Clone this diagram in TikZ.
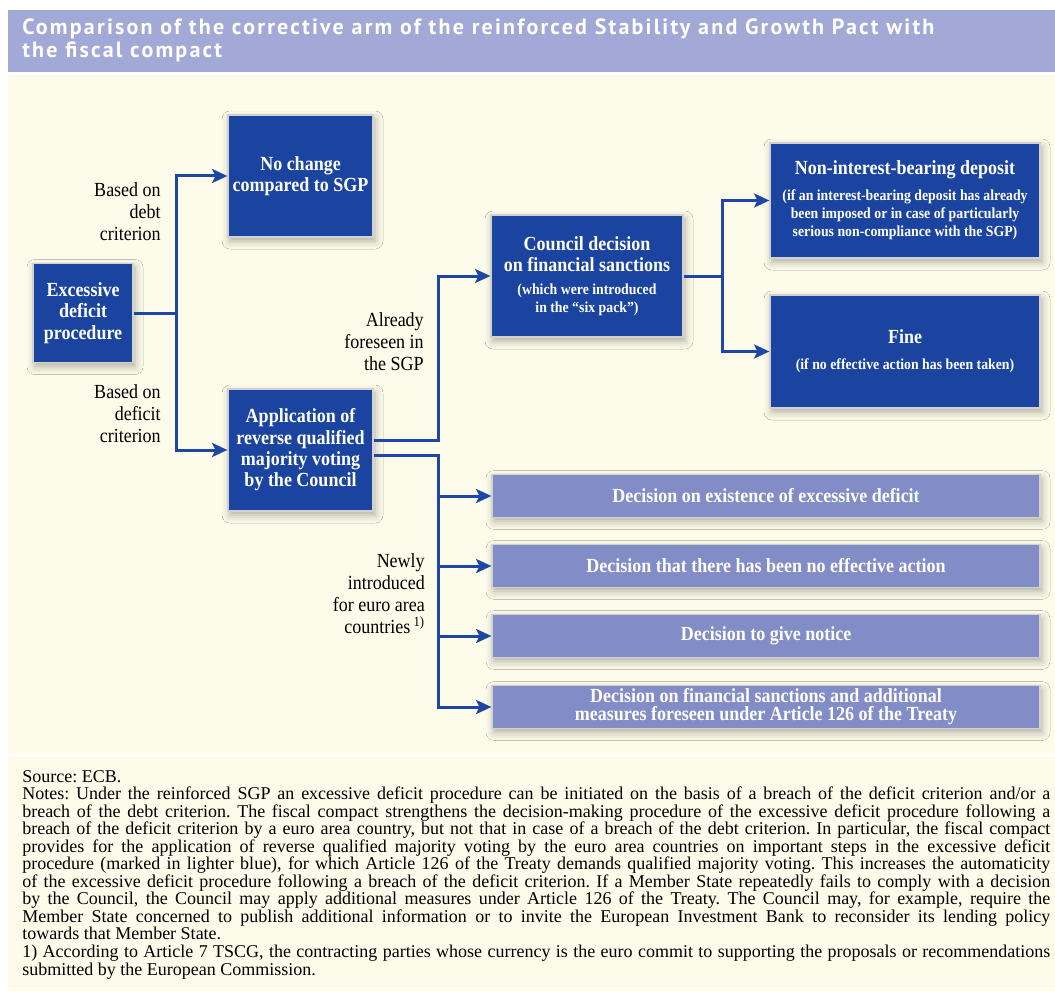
\documentclass[tikz,border=0pt]{standalone}
\usepackage{fontspec}
\setmainfont{Liberation Serif}
\newfontfamily\dfont[FakeStretch=0.9]{Liberation Serif}
\newfontfamily\tfont[LetterSpace=10]{PT Sans}
\usetikzlibrary{arrows.meta,shadows.blur}
\definecolor{titlebg}{RGB}{163,169,214}
\definecolor{cream}{RGB}{253,251,233}
\definecolor{dblue}{RGB}{27,68,160}
\definecolor{lblue}{RGB}{130,141,200}
\definecolor{lineblue}{RGB}{30,70,165}
\newcommand{\bsize}{\fontsize{15pt}{16pt}\selectfont}
\newcommand{\ssize}{\fontsize{11.5pt}{13.5pt}\selectfont}
\newcommand{\jline}[1]{\hbox to\linewidth{#1}}
\newcommand{\rline}[1]{\hbox{#1}}
\begin{document}
\begin{tikzpicture}[x=0.75pt,y=-0.75pt,
  box/.style={rectangle, draw=white!82!black, line width=0.9pt, text=white, align=center,
    inner sep=0pt, font=\dfont\bfseries\bsize,
    blur shadow={shadow xshift=1.5pt, shadow yshift=-3pt, shadow blur radius=6pt, shadow opacity=32}},
  dbox/.style={box, fill=dblue},
  lbox/.style={box, fill=lblue, minimum width=411pt, minimum height=32pt},
  lab/.style={align=right, anchor=east, inner sep=0pt, text=black,
    font=\dfont\fontsize{15pt}{16.5pt}\selectfont},
  ttl/.style={anchor=base west, inner sep=0pt, text=white,
    font=\tfont\bfseries\fontsize{16.5pt}{18pt}\selectfont},
  conn/.style={draw=lineblue, line width=2.25pt,
    -{Stealth[length=11.5pt,width=10.5pt,inset=2.5pt]}}
]
\useasboundingbox (0,0) rectangle (1055,991);
\fill[white] (0,0) rectangle (1055,991);
\fill[titlebg] (8,10) rectangle (1055,72);
\fill[cream] (8,75) rectangle (1055,754);
\fill[cream] (8,757) rectangle (1055,991);

% title
\node[ttl] (t1) at (22,35) {Comparison of the corrective arm of the reinforced Stability and Growth Pact with};
\node[ttl] (t2) at (22,58) {the fiscal compact};

% dark boxes
\node[dbox, minimum width=75pt, minimum height=74.25pt] (edp) at (83,313)
  {Excessive\\deficit\\procedure};
\node[dbox, minimum width=108.75pt, minimum height=91.5pt] (nochange) at (300.5,176)
  {No change\\compared to SGP};
\node[dbox, minimum width=108.75pt, minimum height=91.5pt] (app) at (300.5,450)
  {Application of\\reverse qualified\\majority voting\\by the Council};
\node[dbox, minimum width=144pt, minimum height=91.5pt] (council) at (587,276)
  {Council decision\\on financial sanctions\\[1.25pt]{\ssize (which were introduced}\\[-2.5pt]{\ssize in the “six pack”)}};
\node[dbox, minimum width=202.5pt, minimum height=86.25pt] (nonint) at (905,200.5)
  {Non-interest-bearing deposit\\[3.5pt]{\ssize (if an interest-bearing deposit has already}\\[-2.5pt]{\ssize been imposed or in case of particularly}\\[-2.5pt]{\ssize serious non-compliance with the SGP)}};
\node[dbox, minimum width=202.5pt, minimum height=84.75pt] (fine) at (905,351.5)
  {Fine\\[3.5pt]{\ssize (if no effective action has been taken)}};

% light boxes
\node[lbox] (d1) at (766,496) {Decision on existence of excessive deficit};
\node[lbox] (d2) at (766,566) {Decision that there has been no effective action};
\node[lbox] (d3) at (766,636) {Decision to give notice};
\node[lbox] (d4) at (766,707) {Decision on financial sanctions and additional\\[-2.5pt]measures foreseen under Article 126 of the Treaty};

% labels
\node[lab] (l1) at (161,212) {Based on\\debt\\criterion};
\node[lab] (l2) at (161,414) {Based on\\deficit\\criterion};
\node[lab] (l3) at (424,342) {Already\\foreseen in\\the SGP};
\node[lab] (l4) at (425,594) {Newly\\introduced\\for euro area\\countries\,\textsuperscript{1)}};

% connectors
\coordinate (edpj) at (176,313);
\draw[conn] (edp.east) -- (edpj) |- (nochange.west);
\draw[conn] (edpj) |- (app.west);

\coordinate (appj) at (438,440);
\draw[conn] ([yshift=7.5pt]app.east) -- (appj) |- (council.west);

\coordinate (lj) at (438,455);
\draw[conn] ([yshift=-3.75pt]app.east) -- (lj) |- (d4.west);
\draw[conn] (lj) |- (d1.west);
\draw[conn] (lj) |- (d2.west);
\draw[conn] (lj) |- (d3.west);

\coordinate (cj) at (722,276);
\draw[conn] (council.east) -- (cj) |- (nonint.west);
\draw[conn] (cj) |- (fine.west);

% notes
\node[anchor=base west, inner sep=0pt, text=black] (notes) at (22,782) {%
\begin{minipage}[t]{771pt}\fontsize{13.5pt}{13.16pt}\selectfont\frenchspacing
\rline{Source: ECB.}
\jline{Notes: Under the reinforced SGP an excessive deficit procedure can be initiated on the basis of a breach of the deficit criterion and/or a}
\jline{breach of the debt criterion. The fiscal compact strengthens the decision-making procedure of the excessive deficit procedure following a}
\jline{breach of the deficit criterion by a euro area country, but not that in case of a breach of the debt criterion. In particular, the fiscal compact}
\jline{provides for the application of reverse qualified majority voting by the euro area countries on important steps in the excessive deficit}
\jline{procedure (marked in lighter blue), for which Article 126 of the Treaty demands qualified majority voting. This increases the automaticity}
\jline{of the excessive deficit procedure following a breach of the deficit criterion. If a Member State repeatedly fails to comply with a decision}
\jline{by the Council, the Council may apply additional measures under Article 126 of the Treaty. The Council may, for example, require the}
\jline{Member State concerned to publish additional information or to invite the European Investment Bank to reconsider its lending policy}
\rline{towards that Member State.}
\jline{1) According to Article 7 TSCG, the contracting parties whose currency is the euro commit to supporting the proposals or recommendations}
\rline{submitted by the European Commission.}
\end{minipage}};
\end{tikzpicture}
\end{document}
